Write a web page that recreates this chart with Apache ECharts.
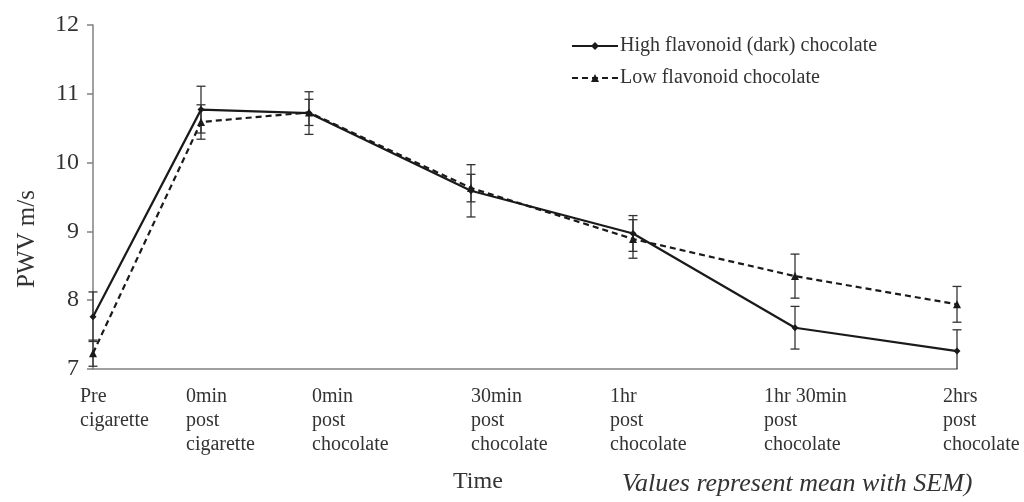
<!DOCTYPE html>
<html><head><meta charset="utf-8">
<script src="https://cdn.jsdelivr.net/npm/echarts@6/dist/echarts.min.js"></script>
<style>html,body{margin:0;padding:0;background:#fff}#c{width:1024px;height:502px}</style>
</head><body><div id="c"></div>
<script>
// Time points (minutes from start of protocol) and labels
var timeLabels = ['Pre\ncigarette', '0min\npost\ncigarette', '0min\npost\nchocolate', '30min\npost\nchocolate', '1hr\npost\nchocolate', '1hr 30min\npost\nchocolate', '2hrs\npost\nchocolate'];
var timeMinutes = [0, 20, 40, 70, 100, 130, 160];
var highMean = [7.76, 10.77, 10.72, 9.59, 8.97, 7.60, 7.26];
var highSem  = [0.36, 0.34, 0.31, 0.38, 0.26, 0.31, 0.31];
var lowMean  = [7.23, 10.59, 10.73, 9.63, 8.89, 8.35, 7.94];
var lowSem   = [0.19, 0.25, 0.19, 0.20, 0.28, 0.32, 0.26];
var yTicks = [7, 8, 9, 10, 11, 12];

var FONT = '"Liberation Serif", "DejaVu Serif", serif';
var chart = echarts.init(document.getElementById('c'));
var Y_MIN = yTicks[0];

function pairs(ys){ return timeMinutes.map(function(x,i){return [x, ys[i]];}); }
function errData(ys, sem){ return timeMinutes.map(function(x,i){return [x, ys[i]-sem[i], ys[i]+sem[i]];}); }
function errRender(params, api){
  var x = api.value(0);
  var loV = api.value(1), clipped = loV < Y_MIN;
  var lo = api.coord([x, Math.max(loV, Y_MIN)]), hi = api.coord([x, api.value(2)]);
  var w = 4.5;
  var st = {stroke:'#333', lineWidth:1.3, fill:null};
  var ch = [
    {type:'line', shape:{x1:lo[0],y1:lo[1],x2:hi[0],y2:hi[1]}, style:st},
    {type:'line', shape:{x1:hi[0]-w,y1:hi[1],x2:hi[0]+w,y2:hi[1]}, style:st}
  ];
  if (!clipped) ch.push({type:'line', shape:{x1:lo[0]-w,y1:lo[1],x2:lo[0]+w,y2:lo[1]}, style:st});
  return {type:'group', children:ch};
}

chart.setOption({
  animation:false,
  backgroundColor:'#fff',
  grid:{left:93, right:67, top:25, bottom:133},
  legend:{
    orient:'vertical', left:566, top:31, itemWidth:46, itemHeight:10, itemGap:12,
    textStyle:{fontFamily:FONT, fontSize:20, color:'#333', padding:[0,0,0,-3]},
    data:['High flavonoid (dark) chocolate','Low flavonoid chocolate']
  },
  xAxis:{type:'value', min:0, max:160, axisLine:{lineStyle:{color:'#808080', width:1.5}},
    axisTick:{show:false}, axisLabel:{show:false}, splitLine:{show:false}},
  yAxis:{type:'value', min:yTicks[0], max:yTicks[yTicks.length-1], interval:1,
    name:'PWV m/s', nameLocation:'middle', nameGap:53,
    nameTextStyle:{fontFamily:FONT, fontSize:25, color:'#333', padding:[0,84,0,0]},
    axisLine:{show:true, lineStyle:{color:'#808080', width:1.5}},
    axisTick:{show:true, length:6, lineStyle:{color:'#808080', width:1.5}},
    axisLabel:{fontFamily:FONT, fontSize:24, color:'#333', margin:14},
    splitLine:{show:false}},
  series:[
    {name:'High flavonoid (dark) chocolate', type:'line', data:pairs(highMean),
     symbol:'diamond', symbolSize:7, itemStyle:{color:'#1a1a1a'},
     lineStyle:{color:'#1a1a1a', width:2.2}, z:3},
    {name:'Low flavonoid chocolate', type:'line', data:pairs(lowMean),
     symbol:'triangle', symbolSize:8, itemStyle:{color:'#1a1a1a'},
     lineStyle:{color:'#1a1a1a', width:2.2, type:[6,4]}, z:3},
    {type:'custom', renderItem:errRender, data:errData(highMean, highSem), clip:false, z:2, silent:true},
    {type:'custom', renderItem:errRender, data:errData(lowMean, lowSem), clip:false, z:2, silent:true}
  ]
});

// x-axis labels positioned from the axis scale
var labelShift = [-13, -15, 3, 0, -23, -31, -14];
var g = timeLabels.map(function(t,i){
  var px = chart.convertToPixel({xAxisIndex:0}, timeMinutes[i]);
  return {type:'text', left:px+labelShift[i], top:385,
    style:{text:t, font:'20px ' + FONT, fill:'#333', lineHeight:24}};
});
g.push({type:'text', left:453, top:470, style:{text:'Time', font:'24px ' + FONT, fill:'#333'}});
g.push({type:'text', left:622, top:471, style:{text:'Values represent mean with SEM)', font:'italic 26px ' + FONT, fill:'#333'}});
chart.setOption({graphic:g});
</script></body></html>
